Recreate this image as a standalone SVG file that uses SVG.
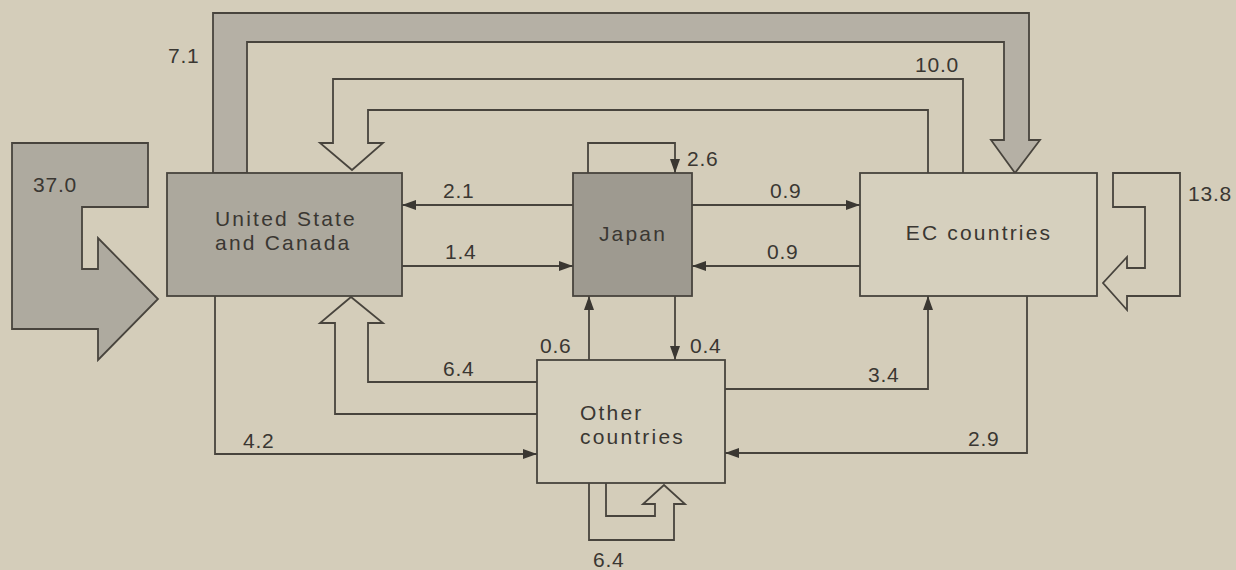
<svg xmlns="http://www.w3.org/2000/svg" width="1236" height="570" viewBox="0 0 1236 570">
<style>
.ln{fill:none;stroke:#48443d;stroke-width:1.8}
.hol{fill:#d4cdba;stroke:#48443d;stroke-width:1.8;stroke-linejoin:miter}
.box{stroke:#48443d;stroke-width:1.8}
.lbl{font-family:"Liberation Sans",Arial,sans-serif;font-size:21px;letter-spacing:2.2px;fill:#3a3732}
.num{font-family:"Liberation Sans",Arial,sans-serif;font-size:21px;letter-spacing:0.8px;fill:#3a3732}
</style>
<defs>
<marker id="ah" viewBox="0 0 14 10" refX="14" refY="5" markerWidth="14" markerHeight="10" markerUnits="userSpaceOnUse" orient="auto">
<path d="M0,0 L14,5 L0,10 Z" fill="#3a3732"/>
</marker>
</defs>
<rect width="1236" height="570" fill="#d4cdba"/>
<g id="connectors">
<path id="flow-71" d="M213,173 V13 H1029 V140 H1040 L1015,173 L991,140 H1004 V42 H247 V173 Z" fill="#b5b0a5" stroke="#48443d" stroke-width="1.8"/>
<path id="flow-370" d="M12,143 H148 V207 H82 V269 H98 V238 L158,299 L98,360 V329 H12 Z" fill="#aeaa9f" stroke="#48443d" stroke-width="1.8"/>
<path id="flow-100" class="hol" d="M963,173 V79 H333 V143 H320 L352,170 L383,143 H368 V110 H928 V173"/>
<path id="flow-138" class="hol" d="M1113,173 H1180 V296 H1127 V310 L1103,283 L1127,257 V268 H1145 V207 H1113 Z"/>
<path id="flow-64a" class="hol" d="M537,414 H335 V323 H320 L351,297 L383,323 H368 V382 H537"/>
<path id="flow-64b" class="hol" d="M589,483 V540 H674 V504 H685 L664,485 L643,504 H655 V516 H606 V483"/>
<path id="flow-26" class="ln" d="M588,173 V143 H675 V173" marker-end="url(#ah)"/>
<path id="flow-21" class="ln" d="M573,205 H402" marker-end="url(#ah)"/>
<path id="flow-14" class="ln" d="M402,266 H573" marker-end="url(#ah)"/>
<path id="flow-09a" class="ln" d="M692,205 H860" marker-end="url(#ah)"/>
<path id="flow-09b" class="ln" d="M860,266 H692" marker-end="url(#ah)"/>
<path id="flow-06" class="ln" d="M589,360 V296" marker-end="url(#ah)"/>
<path id="flow-04" class="ln" d="M675,296 V360" marker-end="url(#ah)"/>
<path id="flow-42" class="ln" d="M215,296 V454 H537" marker-end="url(#ah)"/>
<path id="flow-34" class="ln" d="M725,389 H928 V296" marker-end="url(#ah)"/>
<path id="flow-29" class="ln" d="M1027,296 V453 H725" marker-end="url(#ah)"/>
</g>
<g id="node-us">
<rect class="box" x="167" y="173" width="235" height="123" fill="#aca89d"/>
<text class="lbl" x="215" y="226">United State</text>
<text class="lbl" x="215" y="250">and Canada</text>
</g>
<g id="node-japan">
<rect class="box" x="573" y="173" width="119" height="123" fill="#9e9a90"/>
<text class="lbl" x="633" y="241" text-anchor="middle">Japan</text>
</g>
<g id="node-ec">
<rect class="box" x="860" y="173" width="237" height="123" fill="#d6d0be"/>
<text class="lbl" x="979" y="240" text-anchor="middle">EC countries</text>
</g>
<g id="node-other">
<rect class="box" x="537" y="360" width="188" height="123" fill="#d6d0be"/>
<text class="lbl" x="580" y="420">Other</text>
<text class="lbl" x="580" y="444">countries</text>
</g>
<g id="labels">
<text class="num" x="168" y="63">7.1</text>
<text class="num" x="33" y="192">37.0</text>
<text class="num" x="915" y="72">10.0</text>
<text class="num" x="1188" y="201">13.8</text>
<text class="num" x="687" y="166">2.6</text>
<text class="num" x="443" y="198">2.1</text>
<text class="num" x="445" y="259">1.4</text>
<text class="num" x="770" y="198">0.9</text>
<text class="num" x="767" y="259">0.9</text>
<text class="num" x="540" y="353">0.6</text>
<text class="num" x="690" y="353">0.4</text>
<text class="num" x="443" y="376">6.4</text>
<text class="num" x="243" y="448">4.2</text>
<text class="num" x="868" y="382">3.4</text>
<text class="num" x="968" y="446">2.9</text>
<text class="num" x="593" y="567">6.4</text>
</g>
</svg>
